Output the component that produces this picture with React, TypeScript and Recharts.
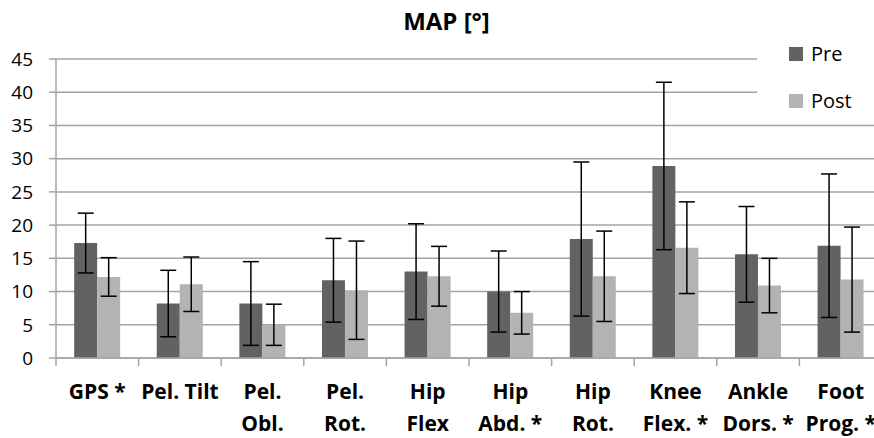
import React from 'react';
import { BarChart, Bar, XAxis, YAxis, CartesianGrid, ErrorBar, Legend } from 'recharts';

const categories = ['GPS *', 'Pel. Tilt', 'Pel.\nObl.', 'Pel.\nRot.', 'Hip\nFlex', 'Hip\nAbd. *', 'Hip\nRot.', 'Knee\nFlex. *', 'Ankle\nDors. *', 'Foot\nProg. *'];
const preMean = [17.3, 8.2, 8.2, 11.7, 13.0, 10.0, 17.9, 28.9, 15.6, 16.9];
const preSd = [4.5, 5.0, 6.3, 6.3, 7.2, 6.1, 11.6, 12.6, 7.2, 10.8];
const postMean = [12.2, 11.1, 5.0, 10.2, 12.3, 6.8, 12.3, 16.6, 10.9, 11.8];
const postSd = [2.9, 4.1, 3.1, 7.4, 4.5, 3.2, 6.8, 6.9, 4.1, 7.9];
const yTicks = [0, 5, 10, 15, 20, 25, 30, 35, 40, 45];

const PRE_COLOR = '#626262';
const POST_COLOR = '#b3b3b3';
const GRID = '#a4a4a4';
const FONT = '"Open Sans", sans-serif';

const CHART_W = 890;
const PLOT_LEFT = 56;
const PLOT_RIGHT = 8;
const PLOT_BOTTOM = 358;
const bandWidth = (CHART_W - PLOT_LEFT - PLOT_RIGHT) / categories.length;

const data = categories.map((name, i) => ({
  name,
  pre: preMean[i],
  preErr: preSd[i],
  post: postMean[i],
  postErr: postSd[i],
}));

// two-line bold labels plus tick marks on the category boundaries
const CategoryTick = (props: any) => {
  const { x, payload, index } = props;
  const lines = String(payload.value).split('\n');
  const left = x - bandWidth / 2;
  return (
    <g>
      <line x1={left} y1={PLOT_BOTTOM} x2={left} y2={PLOT_BOTTOM + 8} stroke={GRID} strokeWidth={1.5} />
      {index === categories.length - 1 && (
        <line x1={x + bandWidth / 2} y1={PLOT_BOTTOM} x2={x + bandWidth / 2} y2={PLOT_BOTTOM + 8} stroke={GRID} strokeWidth={1.5} />
      )}
      <text textAnchor="middle" fontFamily={FONT} fontWeight="bold" fontSize={21} fill="#000">
        {lines.map((l, k) => (
          <tspan key={k} x={x} y={PLOT_BOTTOM + 41 + k * 32}>{l}</tspan>
        ))}
      </text>
    </g>
  );
};

const LegendBox = () => (
  <svg width={130} height={80} style={{ display: 'block' }}>
    <rect x={32} y={7} width={14} height={14} fill={PRE_COLOR} />
    <text x={54} y={21} fontFamily={FONT} fontSize={20} fill="#000">Pre</text>
    <rect x={32} y={54} width={14} height={14} fill={POST_COLOR} />
    <text x={54} y={68} fontFamily={FONT} fontSize={20} fill="#000">Post</text>
  </svg>
);

export default function App() {
  return (
    <div style={{ position: 'fixed', left: 0, top: 0, width: 874, height: 438, overflow: 'hidden', background: '#fff' }}>
      <div style={{ position: 'absolute', left: 0, top: 9, width: 893, textAlign: 'center', fontFamily: FONT, fontWeight: 'bold', fontSize: 24, lineHeight: '24px', zIndex: 2 }}>
        MAP [°]
      </div>
      <BarChart
        width={CHART_W}
        height={438}
        data={data}
        margin={{ top: 59, right: PLOT_RIGHT, bottom: 0, left: 0 }}
        barCategoryGap="22%"
        barGap={0}
      >
        <CartesianGrid vertical={false} stroke={GRID} strokeWidth={1.5} />
        <XAxis
          dataKey="name"
          height={438 - PLOT_BOTTOM}
          interval={0}
          tickLine={false}
          axisLine={{ stroke: GRID, strokeWidth: 1.5 }}
          tick={<CategoryTick />}
        />
        <YAxis
          width={PLOT_LEFT}
          domain={[0, 45]}
          ticks={yTicks}
          interval={0}
          tickSize={7}
          tickMargin={16}
          axisLine={{ stroke: GRID, strokeWidth: 1.5 }}
          tickLine={{ stroke: GRID, strokeWidth: 1.5 }}
          tick={{ fontFamily: FONT, fontSize: 19, fill: '#000' }}
        />
        <Legend
          layout="horizontal"
          verticalAlign="middle"
          align="center"
          content={<LegendBox />}
          wrapperStyle={{ top: 40, left: 757, width: 130, height: 80, background: '#fff' }}
        />
        <Bar dataKey="pre" name="Pre" fill={PRE_COLOR} isAnimationActive={false}>
          <ErrorBar dataKey="preErr" width={8} stroke="#000" strokeWidth={1.5} />
        </Bar>
        <Bar dataKey="post" name="Post" fill={POST_COLOR} isAnimationActive={false}>
          <ErrorBar dataKey="postErr" width={8} stroke="#000" strokeWidth={1.5} />
        </Bar>
      </BarChart>
    </div>
  );
}
